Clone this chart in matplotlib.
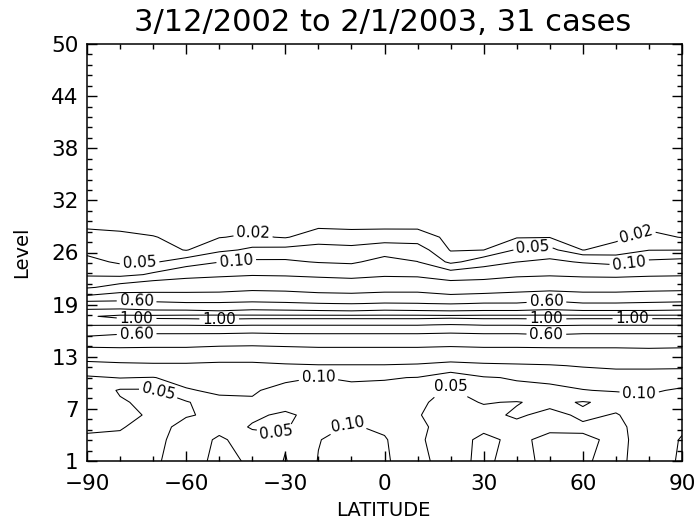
import numpy as np
import matplotlib
matplotlib.use('Agg')
from matplotlib import pyplot as plt
from matplotlib.ticker import FixedLocator

# grid the field is read on: latitude columns, level rows
lat = [-90, -80, -70, -60, -50, -40, -30, -20, -10, 0, 10, 20, 30, 40, 50, 60, 70, 80, 90]
level = [1.0, 3.5, 5.0, 6.4, 7.9, 9.3, 10.8, 12.2,
         13.7, 15.1, 16.1, 17.0, 17.5, 18.0, 18.6, 19.5, 20.5,
         21.4, 22.9, 24.4, 25.8, 27.3, 28.7, 30.2, 32.0, 50.0]

# levels 1 - 12.2 (noisy lower part)
lower_rows = [
    [0.045, 0.048, 0.045, 0.065, 0.12, 0.09, 0.047, 0.102, 0.12, 0.11, 0.055, 0.042, 0.055, 0.04, 0.058, 0.052, 0.045, 0.06, 0.11],
    [0.045, 0.045, 0.042, 0.062, 0.11, 0.07, 0.055, 0.098, 0.12, 0.105, 0.053, 0.04, 0.055, 0.045, 0.056, 0.055, 0.045, 0.058, 0.105],
    [0.055, 0.052, 0.04, 0.058, 0.08, 0.045, 0.045, 0.085, 0.105, 0.09, 0.055, 0.04, 0.045, 0.04, 0.045, 0.045, 0.045, 0.06, 0.09],
    [0.06, 0.06, 0.045, 0.048, 0.055, 0.06, 0.04, 0.07, 0.09, 0.085, 0.052, 0.035, 0.04, 0.055, 0.04, 0.056, 0.048, 0.065, 0.075],
    [0.07, 0.055, 0.038, 0.045, 0.085, 0.095, 0.075, 0.08, 0.085, 0.08, 0.055, 0.04, 0.052, 0.048, 0.06, 0.047, 0.06, 0.08, 0.07],
    [0.085, 0.045, 0.045, 0.095, 0.11, 0.105, 0.085, 0.085, 0.09, 0.085, 0.065, 0.045, 0.08, 0.085, 0.09, 0.098, 0.105, 0.11, 0.09],
    [0.092, 0.102, 0.098, 0.12, 0.13, 0.125, 0.11, 0.099, 0.105, 0.104, 0.098, 0.06, 0.095, 0.105, 0.11, 0.125, 0.15, 0.15, 0.14],
    [0.15, 0.16, 0.17, 0.17, 0.16, 0.16, 0.18, 0.19, 0.19, 0.19, 0.18, 0.15, 0.17, 0.18, 0.19, 0.21, 0.22, 0.22, 0.22],
]

# levels 13.7 - 20.5 (the peak band)
core_rows = [
    [0.30, 0.33, 0.33, 0.33, 0.31, 0.31, 0.32, 0.33, 0.33, 0.33, 0.33, 0.32, 0.33, 0.33, 0.33, 0.34, 0.34, 0.35, 0.34],
    [0.51, 0.49, 0.48, 0.48, 0.47, 0.46, 0.47, 0.48, 0.48, 0.48, 0.48, 0.47, 0.48, 0.48, 0.49, 0.48, 0.48, 0.48, 0.48],
    [0.67, 0.63, 0.62, 0.62, 0.62, 0.61, 0.62, 0.62, 0.62, 0.62, 0.62, 0.61, 0.62, 0.62, 0.64, 0.62, 0.62, 0.62, 0.62],
    [0.81, 0.81, 0.81, 0.81, 0.82, 0.81, 0.81, 0.81, 0.81, 0.81, 0.81, 0.79, 0.81, 0.81, 0.82, 0.81, 0.81, 0.81, 0.81],
    [0.93, 0.95, 0.96, 0.96, 0.97, 0.96, 0.96, 0.96, 0.96, 0.96, 0.96, 0.95, 0.96, 0.96, 0.97, 0.96, 0.96, 0.96, 0.96],
    [0.98, 1.04, 1.04, 1.05, 1.06, 1.05, 1.05, 1.05, 1.05, 1.05, 1.05, 1.04, 1.05, 1.05, 1.05, 1.05, 1.05, 1.05, 1.05],
    [0.84, 0.86, 0.83, 0.83, 0.81, 0.84, 0.83, 0.82, 0.81, 0.83, 0.82, 0.81, 0.82, 0.82, 0.84, 0.82, 0.82, 0.82, 0.83],
    [0.675, 0.66, 0.64, 0.62, 0.62, 0.63, 0.62, 0.605, 0.595, 0.61, 0.605, 0.59, 0.61, 0.61, 0.65, 0.61, 0.61, 0.62, 0.63],
    [0.39, 0.47, 0.455, 0.45, 0.45, 0.48, 0.47, 0.44, 0.43, 0.45, 0.45, 0.41, 0.43, 0.45, 0.48, 0.45, 0.45, 0.47, 0.48],
]

# levels 21.4 - 50 (upper fall-off)
upper_rows = [
    [0.183, 0.25, 0.30, 0.307, 0.32, 0.344, 0.333, 0.31, 0.30, 0.318, 0.318, 0.28, 0.286, 0.318, 0.333, 0.318, 0.318, 0.33, 0.34],
    [0.09, 0.077, 0.11, 0.156, 0.175, 0.19, 0.185, 0.172, 0.159, 0.181, 0.175, 0.131, 0.147, 0.175, 0.186, 0.174, 0.169, 0.181, 0.186],
    [0.06, 0.045, 0.046, 0.067, 0.098, 0.11, 0.11, 0.096, 0.09, 0.123, 0.101, 0.04, 0.071, 0.099, 0.114, 0.094, 0.08, 0.11, 0.118],
    [0.041, 0.035, 0.033, 0.0185, 0.041, 0.057, 0.059, 0.063, 0.06, 0.072, 0.067, 0.018, 0.0197, 0.053, 0.06, 0.0195, 0.0275, 0.0486, 0.049],
    [0.029, 0.025, 0.021, 0.014, 0.019, 0.024, 0.018, 0.034, 0.031, 0.033, 0.0325, 0.0137, 0.0148, 0.018, 0.019, 0.015, 0.0157, 0.027, 0.019],
    [0.016, 0.015, 0.0125, 0.009, 0.012, 0.013, 0.012, 0.015, 0.014, 0.014, 0.014, 0.008, 0.009, 0.011, 0.012, 0.01, 0.0104, 0.014, 0.012],
    [0.005, 0.005, 0.005, 0.004, 0.005, 0.005, 0.005, 0.005, 0.005, 0.005, 0.005, 0.004, 0.004, 0.005, 0.005, 0.004, 0.004, 0.005, 0.005],
    [0.0] * 19,
    [0.0] * 19,
]

contour_levels = [0.02, 0.05, 0.10, 0.20, 0.40, 0.60, 0.80, 1.00]

# where the labels sit (lat, level)
label_spots = {
    0.02: [(-40, 27.3), (76, 27.9)],
    0.05: [(-74, 23.1), (45, 25.6), (-68, 9.6), (20, 10.7), (-33, 3.2)],
    0.10: [(-45, 25.2), (74, 24.4), (-20, 11.1), (-10, 4.4), (77, 8.5)],
    0.60: [(-75, 19.7), (-75, 16.2), (49, 19.7), (49, 16.2)],
    1.00: [(-75, 17.7), (-50, 17.7), (49, 17.8), (75, 17.8)],
}

xtick_vals = [-90, -60, -30, 0, 30, 60, 90]
ytick_labels = ['1', '7', '13', '19', '26', '32', '38', '44', '50']
ytick_vals = np.linspace(1, 50, 9)

field = np.array(lower_rows + core_rows + upper_rows)

fig = plt.figure(figsize=(6.96, 5.24), dpi=100)
ax = fig.add_axes([87/696, 1 - 461/524, 595/696, 417/524])

cs = ax.contour(lat, level, field, levels=contour_levels, colors='k', linewidths=0.75)
# set up label formatting for all levels, then place each label on its own level
cs.clabel(levels=contour_levels, manual=[], fmt='%.2f', fontsize=11, inline=True)
for lev, spots in label_spots.items():
    cs.labelIndiceList = [contour_levels.index(lev)]
    for x, y in spots:
        cs.add_label_near(x, y, inline=True, inline_spacing=3)

ax.set_xlim(-90, 90)
ax.set_ylim(1, 50)
ax.set_xticks(xtick_vals)
ax.xaxis.set_minor_locator(FixedLocator(np.arange(-90, 91, 10)))
ax.set_yticks(ytick_vals, ytick_labels)
ax.yaxis.set_minor_locator(FixedLocator(np.linspace(1, 50, 41)))
ax.tick_params(which='both', direction='in', top=True, right=True, width=1, labelsize=15.5)
ax.tick_params(which='major', length=7)
ax.tick_params(which='minor', length=3.6)
ax.tick_params(axis='x', pad=9)
ax.tick_params(axis='y', pad=6)
for sp in ax.spines.values():
    sp.set_linewidth(1.1)

fig.text(383/696, 1 - 31/524, '3/12/2002 to 2/1/2003, 31 cases', ha='center', va='baseline', fontsize=22)
fig.text(383/696, 1 - 511/524, 'LATITUDE', ha='center', va='center', fontsize=14)
fig.text(22/696, 1 - 252/524, 'Level', ha='center', va='center', rotation=90, fontsize=14)

plt.savefig('out.png', dpi=100)
